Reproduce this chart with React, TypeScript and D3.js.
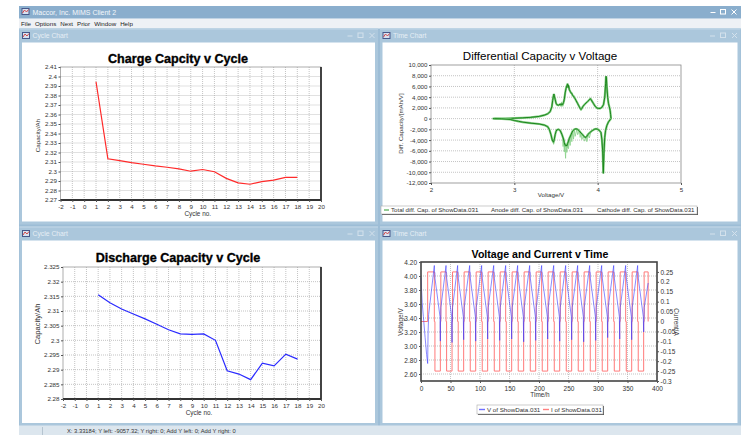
import React, { useRef, useEffect } from "react";
import * as d3 from "d3";

// cycle charts
const cycleNo = [1, 2, 3, 4, 5, 6, 7, 8, 9, 10, 11, 12, 13, 14, 15, 16, 17, 18];
const chargeCap = [2.3945, 2.3134, 2.3114, 2.3093, 2.3076, 2.3059, 2.3045, 2.3028, 2.3003, 2.3021, 2.2997, 2.2928, 2.2881, 2.2866, 2.2893, 2.291, 2.2938, 2.2938];
const dischargeCap = [2.3155, 2.3128, 2.3107, 2.309, 2.3073, 2.3055, 2.3036, 2.3022, 2.302, 2.3022, 2.3, 2.2896, 2.2885, 2.2866, 2.2922, 2.2913, 2.2953, 2.2936];
const cycleTicks = [-2, -1, 0, 1, 2, 3, 4, 5, 6, 7, 8, 9, 10, 11, 12, 13, 14, 15, 16, 17, 18, 19, 20];
const chargeTicks = [2.27, 2.28, 2.29, 2.3, 2.31, 2.32, 2.33, 2.34, 2.35, 2.36, 2.37, 2.38, 2.39, 2.4, 2.41];
const dischargeTicks = [2.28, 2.285, 2.29, 2.295, 2.3, 2.305, 2.31, 2.315, 2.32, 2.325];

// differential capacity [V, mAh/V]
const dqdvCharge = [
  [2.74, 0], [2.85, 20], [2.95, 50], [3.0, 80], [3.1, 150], [3.2, 250], [3.3, 420], [3.36, 650], [3.4, 900],
  [3.43, 1300], [3.45, 2200], [3.46, 3400], [3.47, 4300], [3.475, 4600], [3.48, 4200], [3.49, 3600], [3.5, 2900],
  [3.51, 2600], [3.53, 2500], [3.55, 2700], [3.56, 2500], [3.57, 2800], [3.58, 2600], [3.59, 3000], [3.6, 3600],
  [3.61, 4800], [3.62, 5600], [3.63, 6100], [3.64, 6500], [3.645, 5800], [3.65, 6200], [3.66, 5400], [3.67, 5100],
  [3.68, 4800], [3.69, 4700], [3.7, 4300], [3.71, 4200], [3.72, 3900], [3.73, 3700], [3.74, 3400], [3.75, 3100],
  [3.76, 2800], [3.77, 2500], [3.78, 2200], [3.79, 1900], [3.8, 1700], [3.81, 1900], [3.82, 2200], [3.84, 2600],
  [3.86, 2900], [3.88, 3200], [3.9, 3500], [3.91, 3700], [3.92, 3600], [3.93, 3300], [3.95, 2800], [3.97, 2300],
  [3.99, 2000], [4.01, 1900], [4.03, 1900], [4.05, 2100], [4.07, 2600], [4.085, 4000], [4.095, 6500], [4.1, 7900],
  [4.105, 7600], [4.11, 6000], [4.12, 4000], [4.13, 2800], [4.14, 2200], [4.15, 1500], [4.155, 800], [4.16, 0],
];
const dqdvDischarge = [
  [2.76, 0], [2.85, -30], [2.95, -150], [3.0, -350], [3.05, -500], [3.1, -650], [3.2, -850], [3.3, -1000],
  [3.36, -1200], [3.4, -1500], [3.42, -2000], [3.44, -3000], [3.455, -4000], [3.47, -4400], [3.48, -3800],
  [3.49, -3000], [3.5, -2400], [3.51, -2100], [3.53, -2000], [3.55, -2200], [3.57, -2900], [3.59, -3800],
  [3.6, -4500], [3.61, -5000], [3.62, -4900], [3.63, -5100], [3.64, -4600], [3.65, -4200], [3.66, -3700],
  [3.68, -3000], [3.7, -2300], [3.72, -2000], [3.74, -1900], [3.76, -2000], [3.78, -2300], [3.8, -2700],
  [3.82, -3000], [3.84, -3400], [3.86, -3500], [3.87, -3300], [3.88, -3000], [3.9, -2700], [3.92, -2400],
  [3.94, -2200], [3.96, -2000], [3.98, -1900], [4.0, -2000], [4.02, -2200], [4.04, -2600], [4.05, -3800],
  [4.06, -6000], [4.068, -10200], [4.075, -6500], [4.085, -3500], [4.095, -2200], [4.11, -1300], [4.13, -600],
  [4.15, -200], [4.16, 0],
];
const dqdvNoise = [
  [3.58, -3600], [3.585, -5200], [3.59, -3800], [3.6, -6200], [3.605, -4500], [3.615, -7400], [3.62, -4900],
  [3.63, -6300], [3.64, -4600], [3.65, -5600], [3.66, -3700], [3.67, -5000], [3.68, -3000], [3.69, -4300],
  [3.7, -2400], [3.71, -3800], [3.72, -2000], [3.73, -3300], [3.75, -2000], [3.76, -3000], [3.78, -2300],
  [3.79, -3500], [3.8, -2700], [3.81, -3900], [3.83, -3200], [3.84, -4200], [3.86, -3500], [3.87, -4300],
  [3.89, -2900], [3.9, -3600], [3.92, -2400],
];
const voltTicks = [2, 3, 4, 5];
const diffTicks = [-12000, -10000, -8000, -6000, -4000, -2000, 0, 2000, 4000, 6000, 8000, 10000];

// time chart
const startVolts = [[0, 3.98], [2, 3.62], [4, 3.42], [7, 3.12], [9.5, 2.88], [11.3, 2.75], [12, 3.2], [13, 3.45]];
const peakHours = [22.6, 42.4, 62.1, 82.5, 102.8, 123.2, 143.5, 163.8, 184.2, 204.5, 224.9, 245.2, 265.5, 285.9, 306.2, 326.6, 346.9, 367.2];
const peakVolt = 4.15;
const dipVolts = [3.07, 3.05, 3.09, 3.07, 3.1, 3.08, 3.1, 3.06, 3.08, 3.1, 3.07, 3.09, 3.06, 3.08, 3.12, 3.1, 3.09, 3.2];
// voltage after each peak: [hours after peak, volts]; null = end-of-discharge dip
const afterPeak = [[0.15, 4.07], [1.0, 4.04], [1.1, 3.97], [9.6, 3.42], [10.2, null], [10.35, 3.3], [11.0, 3.45], [11.1, 3.55]];
const endPoint = [385, 3.9];
const stepOffsetH = [0, 1.0, 10.2, 11.0];
const stepCurrent = [0, -0.25, 0, 0.25];
const firstCharge = 11.3;
const timeTicks = [0, 50, 100, 150, 200, 250, 300, 350, 400];
const leftVTicks = [2.6, 2.8, 3.0, 3.2, 3.4, 3.6, 3.8, 4.0, 4.2];
const currentTicks = [-0.3, -0.25, -0.2, -0.15, -0.1, -0.05, 0, 0.05, 0.1, 0.15, 0.2, 0.25];

const menuItems = ["File", "Options", "Next", "Prior", "Window", "Help"];

const FONT = "'Liberation Sans', Arial, sans-serif";
const TICK = 6.2;

function styleAxis(g, size) {
  g.attr("font-family", FONT).attr("font-size", size);
  g.select(".domain").remove();
  g.selectAll("text").attr("fill", "#333");
  g.selectAll("line").attr("stroke", "#555");
}

function txt(svg, x, y, s, size, opts = {}) {
  const t = svg.append("text").attr("x", x).attr("y", y).text(s)
    .attr("font-family", FONT).attr("font-size", size)
    .attr("fill", opts.fill || "#333")
    .attr("text-anchor", opts.anchor || "start");
  if (opts.bold) t.attr("font-weight", "bold");
  if (opts.heavy) t.attr("stroke", opts.fill).attr("stroke-width", opts.heavy);
  if (opts.rotate) t.attr("transform", `rotate(${opts.rotate},${x},${y})`);
  return t;
}

function gridLines(g, xs, ys, x, y, [l, r], [t, b]) {
  g.selectAll(null).data(xs).join("line")
    .attr("x1", (d) => x(d)).attr("x2", (d) => x(d)).attr("y1", t).attr("y2", b)
    .attr("stroke", "#aaa").attr("stroke-width", 0.7).attr("stroke-dasharray", "1,1");
  g.selectAll(null).data(ys).join("line")
    .attr("y1", (d) => y(d)).attr("y2", (d) => y(d)).attr("x1", l).attr("x2", r)
    .attr("stroke", "#aaa").attr("stroke-width", 0.7).attr("stroke-dasharray", "1,1");
}

function cycleChart(svg, c) {
  const x = d3.scaleLinear().domain([-2, 20]).range([c.left, c.right]);
  const y = d3.scaleLinear().domain(c.yDomain).range([c.bottom, c.top]);
  const g = svg.append("g");
  gridLines(g, cycleTicks.slice(1, -1), c.yTicks.slice(1, -1), x, y, [c.left, c.right], [c.top, c.bottom]);

  g.append("rect").attr("x", c.left).attr("y", c.top)
    .attr("width", c.right - c.left).attr("height", c.bottom - c.top)
    .attr("fill", "none").attr("stroke", "#999").attr("stroke-width", 0.8);
  g.append("path").attr("d", `M${c.right},${c.top}V${c.bottom}H${c.left}`)
    .attr("fill", "none").attr("stroke", "#333").attr("stroke-width", 1.8);

  const ya = g.append("g").attr("transform", `translate(${c.left},0)`)
    .call(d3.axisLeft(y).tickValues(c.yTicks).tickSize(2).tickPadding(1.5).tickFormat((d) => String(+d.toFixed(3))));
  styleAxis(ya, TICK);
  const xa = g.append("g").attr("transform", `translate(0,${c.bottom})`)
    .call(d3.axisBottom(x).tickValues(cycleTicks).tickSize(2).tickPadding(3).tickFormat((d) => String(d).replace("−", "-")));
  styleAxis(xa, TICK);

  const line = d3.line().x((d, i) => x(cycleNo[i])).y((d) => y(d));
  g.append("path").datum(c.values).attr("d", line)
    .attr("fill", "none").attr("stroke", c.color).attr("stroke-width", 1.2);

  txt(g, c.titleX, c.titleY, c.title, 12.6, { anchor: "middle", bold: true, fill: "#000", heavy: 0.35 });
  txt(g, (c.left + c.right) / 2 + 7, c.bottom + 16, "Cycle no.", 6.4, { anchor: "middle" });
  txt(g, 40, c.yTitleY, "Capacity/Ah", c.yTitleSize, { anchor: "middle", rotate: -90 });
}

function diffChart(svg) {
  const left = 431, right = 681, top = 65, bottom = 183;
  const x = d3.scaleLinear().domain([2, 5]).range([left, right]);
  const y = d3.scaleLinear().domain([-12000, 10000]).range([bottom, top]);
  const g = svg.append("g");
  gridLines(g, [3, 4], diffTicks.slice(1, -1), x, y, [left, right], [top, bottom]);
  g.append("rect").attr("x", left).attr("y", top).attr("width", right - left).attr("height", bottom - top)
    .attr("fill", "none").attr("stroke", "#888").attr("stroke-width", 0.8);

  const fmt = d3.format(",");
  const ya = g.append("g").attr("transform", `translate(${left},0)`)
    .call(d3.axisLeft(y).tickValues(diffTicks).tickSize(2).tickPadding(1.5).tickFormat((d) => fmt(d).replace("−", "-")));
  styleAxis(ya, TICK);
  const xa = g.append("g").attr("transform", `translate(0,${bottom})`)
    .call(d3.axisBottom(x).tickValues(voltTicks).tickSize(2).tickPadding(2.5).tickFormat(d3.format("d")));
  styleAxis(xa, TICK);

  const line = d3.line().x((d) => x(d[0])).y((d) => y(d[1]));
  g.append("path").datum(dqdvNoise).attr("d", line).attr("fill", "none").attr("stroke", "#86d086").attr("stroke-width", 0.8);
  [dqdvCharge, dqdvDischarge].forEach((s) => {
    g.append("path").datum(s).attr("d", line).attr("fill", "none").attr("stroke", "#7fcb7f").attr("stroke-width", 2.2);
    g.append("path").datum(s).attr("d", line).attr("fill", "none").attr("stroke", "#1d861d").attr("stroke-width", 1);
  });

  txt(g, 540, 60, "Differential Capacity v Voltage", 11.6, { anchor: "middle", fill: "#000" });
  txt(g, 551, 197, "Voltage/V", 6.2, { anchor: "middle" });
  txt(g, 403, 123.5, "Diff. Capacity/[mAh/V]", 6.2, { anchor: "middle", rotate: -90 });

  // legend
  g.append("rect").attr("x", 382).attr("y", 207).attr("width", 316).attr("height", 8).attr("fill", "#555");
  g.append("rect").attr("x", 381).attr("y", 206).attr("width", 316).attr("height", 8).attr("fill", "#fff").attr("stroke", "#aaa").attr("stroke-width", 0.6);
  g.append("line").attr("x1", 384).attr("x2", 389).attr("y1", 210).attr("y2", 210).attr("stroke", "#2a9a2a").attr("stroke-width", 1);
  txt(g, 391, 212.2, "Total diff. Cap. of ShowData.031", 6.1);
  txt(g, 491, 212.2, "Anode diff. Cap. of ShowData.031", 6.1);
  txt(g, 597, 212.2, "Cathode diff. Cap. of ShowData.031", 6.1);
}

function timeChart(svg) {
  const left = 421, right = 657, top = 262, bottom = 381;
  const x = d3.scaleLinear().domain([0, 400]).range([left, right]);
  const yV = d3.scaleLinear().domain([2.5, 4.2]).range([bottom, top]);
  const yI = d3.scaleLinear().domain([-0.3, 0.3]).range([bottom, top]);
  const g = svg.append("g");
  gridLines(g, timeTicks.slice(1, -1), leftVTicks.slice(0, -1), x, yV, [left, right], [top, bottom]);

  const vPoints = [...startVolts];
  peakHours.forEach((p, k) => {
    vPoints.push([p, peakVolt]);
    afterPeak.forEach(([dt, v]) => vPoints.push([p + dt, v === null ? dipVolts[k] : v]));
  });
  vPoints.push(endPoint);

  const iPoints = [[0, 0], [firstCharge, 0.25]];
  peakHours.forEach((p) => {
    stepOffsetH.forEach((dt, j) => iPoints.push([p + dt, stepCurrent[j]]));
  });
  iPoints.push([endPoint[0], 0]);

  const iLine = d3.line().curve(d3.curveStepAfter).x((d) => x(d[0])).y((d) => yI(d[1]));
  g.append("path").datum(iPoints).attr("d", iLine).attr("fill", "none").attr("stroke", "#ff7a7a").attr("stroke-width", 1);
  const vLine = d3.line().x((d) => x(d[0])).y((d) => yV(d[1]));
  g.append("path").datum(vPoints).attr("d", vLine).attr("fill", "none").attr("stroke", "#3a3aff").attr("stroke-opacity", 0.6).attr("stroke-width", 1);

  g.append("rect").attr("x", left).attr("y", top).attr("width", right - left).attr("height", bottom - top)
    .attr("fill", "none").attr("stroke", "#444").attr("stroke-width", 1.6);

  const ya = g.append("g").attr("transform", `translate(${left},0)`)
    .call(d3.axisLeft(yV).tickValues(leftVTicks).tickSize(2).tickPadding(2).tickFormat(d3.format(".2f")));
  styleAxis(ya, TICK + 0.3);
  const yr = g.append("g").attr("transform", `translate(${right},0)`)
    .call(d3.axisRight(yI).tickValues(currentTicks).tickSize(2).tickPadding(1.5).tickFormat((d) => String(+d.toFixed(2))));
  styleAxis(yr, TICK + 0.3);
  const xa = g.append("g").attr("transform", `translate(0,${bottom})`)
    .call(d3.axisBottom(x).tickValues(timeTicks).tickSize(2).tickPadding(3).tickFormat(d3.format("d")));
  styleAxis(xa, TICK + 0.3);

  txt(g, 540, 258, "Voltage and Current v Time", 10.6, { anchor: "middle", bold: true, fill: "#000" });
  txt(g, 540, 396.5, "Time/h", 6.4, { anchor: "middle" });
  txt(g, 403, 322, "Voltage/V", 6.4, { anchor: "middle", rotate: -90 });
  txt(g, 674, 322, "Current/A", 6.4, { anchor: "middle", rotate: 90 });

  g.append("rect").attr("x", 478).attr("y", 406).attr("width", 126).attr("height", 9).attr("fill", "#555");
  g.append("rect").attr("x", 477).attr("y", 405).attr("width", 126).attr("height", 9).attr("fill", "#fff").attr("stroke", "#aaa").attr("stroke-width", 0.6);
  g.append("line").attr("x1", 479).attr("x2", 485).attr("y1", 409.5).attr("y2", 409.5).attr("stroke", "#7070ff").attr("stroke-width", 1.4);
  txt(g, 487, 411.6, "V of ShowData.031", 6.2);
  g.append("line").attr("x1", 543).attr("x2", 549).attr("y1", 409.5).attr("y2", 409.5).attr("stroke", "#ff8080").attr("stroke-width", 1.4);
  txt(g, 551, 411.6, "I of ShowData.031", 6.2);
}

function icon(svg, x, y) {
  svg.append("rect").attr("x", x).attr("y", y).attr("width", 8).attr("height", 7).attr("fill", "#46588a");
  svg.append("rect").attr("x", x + 1).attr("y", y + 1).attr("width", 6).attr("height", 5).attr("fill", "#d9e2f0");
  svg.append("path").attr("d", `M${x + 1},${y + 5}L${x + 3},${y + 2}L${x + 5},${y + 4}L${x + 7},${y + 1.5}`)
    .attr("fill", "none").attr("stroke", "#d23a3a").attr("stroke-width", 0.9);
}

function controls(svg, xs, y, color) {
  svg.append("line").attr("x1", xs[0] - 2.5).attr("x2", xs[0] + 2.5).attr("y1", y).attr("y2", y).attr("stroke", color).attr("stroke-width", 1);
  svg.append("rect").attr("x", xs[1] - 2.5).attr("y", y - 3).attr("width", 5).attr("height", 4.5).attr("fill", "none").attr("stroke", color).attr("stroke-width", 1);
  svg.append("path").attr("d", `M${xs[2] - 2.5},${y - 3}L${xs[2] + 2.5},${y + 2}M${xs[2] + 2.5},${y - 3}L${xs[2] - 2.5},${y + 2}`)
    .attr("stroke", color).attr("stroke-width", 1);
}

function childWindow(svg, x0, y0, x1, y1, title) {
  svg.append("rect").attr("x", x0).attr("y", y0).attr("width", x1 - x0).attr("height", y1 - y0).attr("fill", "#abc7dc");
  svg.append("line").attr("x1", x0).attr("x2", x1).attr("y1", y0 + 0.5).attr("y2", y0 + 0.5).attr("stroke", "#c4d8e7");
  icon(svg, x0 + 2.5, y0 + 3.5);
  txt(svg, x0 + 13, y0 + 9.5, title, 6.8, { fill: "#e6eef5" });
  controls(svg, [x1 - 28, x1 - 17.5, x1 - 6], y0 + 7.5, "#d3e1ec");
  svg.append("rect").attr("x", x0 + 2.5).attr("y", y0 + 14).attr("width", x1 - x0 - 5.5).attr("height", y1 - y0 - 17).attr("fill", "#fff");
}

const App = () => {
  const svgRef = useRef(null);

  useEffect(() => {
    const svg = d3.select(svgRef.current);
    svg.selectAll("*").remove();

    svg.append("rect").attr("width", 748).attr("height", 435).attr("fill", "#fff");
    // main window
    svg.append("rect").attr("x", 19).attr("y", 6).attr("width", 722).attr("height", 429).attr("fill", "#9dbdd6");
    svg.append("rect").attr("x", 19).attr("y", 6).attr("width", 722).attr("height", 12.5).attr("fill", "#8aaecd");
    icon(svg, 21.5, 8);
    txt(svg, 32.5, 15, "Maccor, Inc. MIMS Client 2", 7, { fill: "#f3f7fb" });
    controls(svg, [713, 723, 734], 12.5, "#ffffff");
    svg.append("rect").attr("x", 19).attr("y", 18.5).attr("width", 722).attr("height", 10).attr("fill", "#eef1f5");
    // menu laid out left to right with measured widths
    let mx = 21;
    menuItems.forEach((s) => {
      const t = txt(svg, mx, 26, s, 6.2, { fill: "#222" });
      mx += t.node().getComputedTextLength() + 4;
    });

    childWindow(svg, 19.5, 28.5, 378, 224.5, "Cycle Chart");
    childWindow(svg, 380, 28.5, 740.5, 224.5, "Time Chart");
    childWindow(svg, 19.5, 226.5, 378, 426, "Cycle Chart");
    childWindow(svg, 380, 226.5, 740.5, 426, "Time Chart");

    // status bar
    svg.append("rect").attr("x", 19).attr("y", 425.5).attr("width", 722).attr("height", 10).attr("fill", "#dce6ee");
    svg.append("line").attr("x1", 42.5).attr("x2", 42.5).attr("y1", 427).attr("y2", 435).attr("stroke", "#b5c4d0");
    txt(svg, 67, 433, "X: 3.33184; Y left: -9057.32; Y right: 0; Add Y left: 0; Add Y right: 0", 5.8, { fill: "#333" });

    cycleChart(svg, {
      left: 60.5, right: 321, top: 67, bottom: 200, yDomain: [2.27, 2.41], yTicks: chargeTicks,
      values: chargeCap, color: "#ff2a2a", title: "Charge Capcity v Cycle", titleX: 178, titleY: 62.5,
      yTitleY: 135.5, yTitleSize: 6.2,
    });
    cycleChart(svg, {
      left: 63, right: 321, top: 267, bottom: 399, yDomain: [2.28, 2.325], yTicks: dischargeTicks,
      values: dischargeCap, color: "#2a2aff", title: "Discharge Capacity v Cycle", titleX: 178, titleY: 261.5,
      yTitleY: 324, yTitleSize: 7.6,
    });
    diffChart(svg);
    timeChart(svg);
  }, []);

  return <svg ref={svgRef} width={748} height={435} style={{ position: "absolute", left: 0, top: 0, display: "block" }} />;
};

export default App;
